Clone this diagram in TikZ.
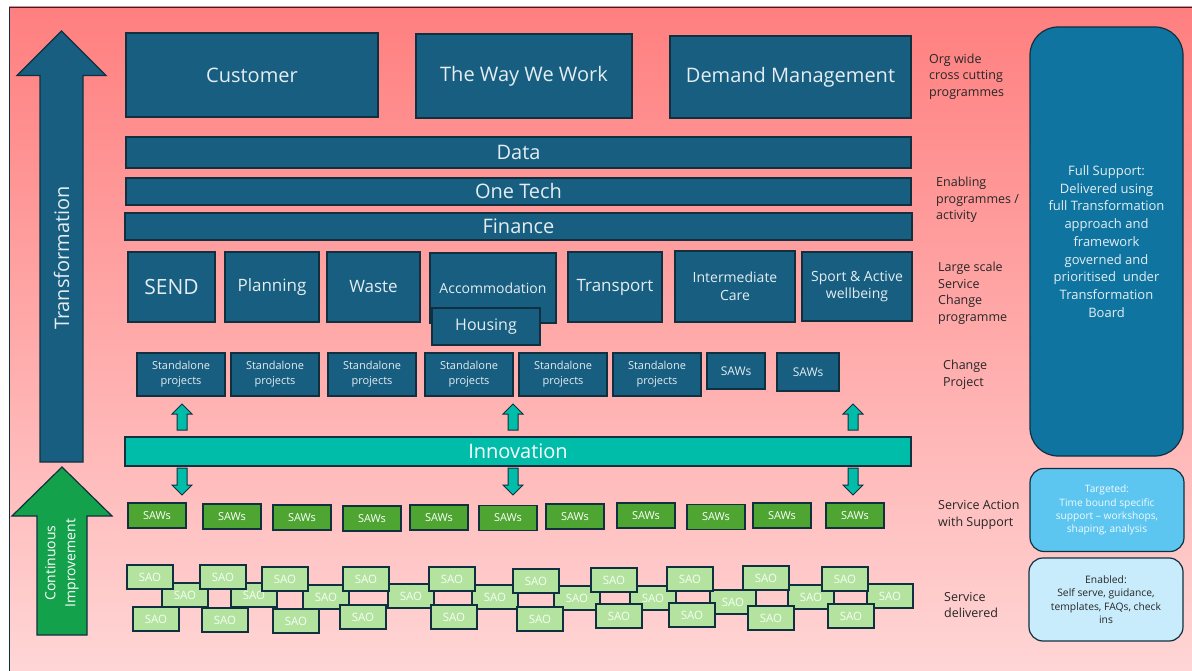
\documentclass[tikz,border=0pt]{standalone}
\usepackage{fontspec}
\setmainfont{Open Sans}
\usepackage{tikz}

\definecolor{bgtop}{HTML}{FF7F7F}
\definecolor{bgbot}{HTML}{FFD6D6}
\definecolor{progblue}{HTML}{175E80}
\definecolor{progline}{HTML}{10303F}
\definecolor{progtext}{HTML}{E4EDF2}
\definecolor{fullblue}{HTML}{0F75A0}
\definecolor{tgtblue}{HTML}{5CC6F0}
\definecolor{enbblue}{HTML}{C8ECFB}
\definecolor{innoteal}{HTML}{00BDA9}
\definecolor{sawgreen}{HTML}{4EA532}
\definecolor{saogreen}{HTML}{B4E3A0}
\definecolor{cigreen}{HTML}{14A14B}
\definecolor{labtext}{HTML}{262626}

\newcommand{\lw}{1.2pt}
\newcommand{\FL}{\fontsize{20}{24}\selectfont}
\newcommand{\FM}{\fontsize{17}{21}\selectfont}
\newcommand{\FS}{\fontsize{14}{17.5}\selectfont}
\newcommand{\FT}{\fontsize{11}{15}\selectfont}
\newcommand{\BlkArr}[7]{\filldraw[#7] (#1,#2) -- (#1+#6,#4) -- (#1+#5,#4) -- (#1+#5,#3) -- (#1-#5,#3) -- (#1-#5,#4) -- (#1-#6,#4) -- cycle;}

\tikzset{
    prog/.style={draw=progline,fill=progblue,text=progtext,line width=\lw,inner sep=1pt,align=center},
    sawbox/.style={draw=progline,fill=sawgreen,text=white,line width=1.5pt,minimum width=58pt,minimum height=25pt,inner sep=0pt,font=\fontsize{11}{13}\selectfont},
    saobox/.style={draw=progline,fill=saogreen,text=white!96!green,line width=1.6pt,minimum width=46pt,minimum height=24pt,inner sep=0pt,font=\fontsize{11.5}{13}\selectfont},
    lvl/.style={text=labtext,align=left,anchor=west,inner sep=0pt,font=\fontsize{12.5}{16.5}\selectfont},
    panel/.style={draw=progline,line width=\lw,align=center,inner sep=0pt},
    tealarr/.style={fill=innoteal,draw=progline,line width=1pt}
}

\begin{document}
\begin{tikzpicture}[x=1pt,y=-1pt]
    \useasboundingbox (0,0) rectangle (1192,671);
    \shade[top color=bgtop,bottom color=bgbot] (9,7) rectangle (1196,675);
    \draw[progline,line width=0.8pt] (9,675) -- (9,7) -- (1196,7);

    % big arrows on the left
    \BlkArr{61.5}{31}{462}{75.5}{21.5}{44.5}{fill=progblue,draw=progline,line width=\lw}
    \node[rotate=90,text=progtext,font=\FL] (trlab) at (61.5,258) {Transformation};
    \BlkArr{62}{467}{635}{516}{25}{50}{fill=cigreen,draw=progline,line width=\lw}
    \node[rotate=90,align=center,text=white,font=\fontsize{14}{20}\selectfont] (cilab) at (62,563) {Continuous\\Improvement};

    % cross cutting and enabling programmes
    \node[prog,minimum width=252pt,minimum height=84pt,font=\FL] (cust) at (252,75) {Customer};
    \node[prog,minimum width=216pt,minimum height=84pt,font=\FL] (wway) at (524,76) {The Way We Work};
    \node[prog,minimum width=241pt,minimum height=82pt,font=\FL] (demand) at (790.5,77) {Demand Management};
    \node[prog,minimum width=785pt,minimum height=31pt,font=\FL] (data) at (518.5,152.5) {Data};
    \node[prog,minimum width=785pt,minimum height=27pt,font=\FL] (otech) at (518.5,191.5) {One Tech};
    \node[prog,minimum width=787pt,minimum height=27pt,font=\FL] (fin) at (518.5,226.5) {Finance};

    % large scale programmes
    \node[prog,minimum width=87pt,minimum height=70pt,font=\fontsize{21}{24}\selectfont] (send) at (171.5,287) {SEND};
    \node[prog,minimum width=94pt,minimum height=70pt,font=\FM] (plan) at (272,287) {Planning};
    \node[prog,minimum width=93pt,minimum height=70pt,font=\FM] (waste) at (373.5,287) {Waste};
    \node[prog,minimum width=126pt,minimum height=70pt,font=\FS] (accom) at (493,288) {Accommodation};
    \node[prog,minimum width=108pt,minimum height=37pt,font=\fontsize{16}{19}\selectfont] (housing) at (486,326.5) {Housing};
    \node[prog,minimum width=94pt,minimum height=70pt,font=\FM] (transp) at (615,287) {Transport};
    \node[prog,minimum width=120pt,minimum height=71pt,font=\FS] (icare) at (735,286.5) {Intermediate\\Care};
    \node[prog,minimum width=110pt,minimum height=69pt,font=\FS] (sport) at (857,286.5) {Sport \& Active\\wellbeing};

    % change projects
    \foreach \x [count=\i] in {181,275,372,469,563,657}
        \node[prog,minimum width=88pt,minimum height=43pt,font=\FT] (stand\i) at (\x,374.5) {Standalone\\projects};
    \node[prog,minimum width=58pt,minimum height=36pt,font=\fontsize{12}{14}\selectfont] (cpsaw1) at (736,371) {SAWs};
    \node[prog,minimum width=62pt,minimum height=38pt,font=\fontsize{12}{14}\selectfont] (cpsaw2) at (808,372) {SAWs};

    % innovation
    \node[prog,fill=innoteal,text=white,minimum width=786pt,minimum height=29pt,font=\FL] (inno) at (518,451.5) {Innovation};
    \foreach \ax in {182,513,853}{
        \BlkArr{\ax}{404}{430}{414}{5}{10}{tealarr}
        \BlkArr{\ax}{495}{468}{485}{5}{10}{tealarr}
    }

    % service action with support
    \foreach \x/\y [count=\i] in {157/515.5,232/516.5,302/517.5,372/518.5,439/517.5,508/518,575/516.5,646/515.5,716/517,782/515.5,855/515.5}
        \node[sawbox] (saw\i) at (\x,\y) {SAWs};

    % service delivered
    \begin{scope}
        \foreach \x/\y [count=\i] in {185/595,254/595,326/597,411/596,495/597,577/598,653/598,733/602,811/597,890/596}
            \node[saobox] (saoM\i) at (\x,\y) {SAO};
        \foreach \x/\y [count=\i] in {150/577,223/577,285/579,366/579,452/579,536/581,614/580,690/579,766/578,845/579}
            \node[saobox] (saoT\i) at (\x,\y) {SAO};
        \foreach \x/\y [count=\i] in {156/619,225/620,296/621,363/617,454/617,540/619,619/616,692/615,771/618,851/616}
            \node[saobox] (saoB\i) at (\x,\y) {SAO};
    \end{scope}

    % level labels
    \node[lvl] (lorg) at (929,76.5) {Org wide\\cross cutting\\programmes};
    \node[lvl] (lenab) at (936,200) {Enabling\\programmes /\\activity};
    \node[lvl] (llarge) at (938,293.5) {Large scale\\Service\\Change\\programme};
    \node[lvl] (lchange) at (943,375) {Change\\Project};
    \node[lvl] (lsaws) at (938,515) {Service Action\\with Support};
    \node[lvl] (lsao) at (944,605) {Service\\delivered};

    % support panels
    \node[panel,fill=fullblue,rounded corners=28pt,minimum width=153pt,minimum height=429pt,text=progtext,font=\fontsize{13}{17.7}\selectfont] (full) at (1106.5,241.5)
        {Full Support:\\Delivered using\\full Transformation\\approach and\\framework\\governed and\\prioritised~ under\\Transformation\\Board};
    \node[panel,fill=tgtblue,rounded corners=14pt,minimum width=154pt,minimum height=83pt,text=white!92!tgtblue,font=\fontsize{10.2}{13.3}\selectfont] (tgt) at (1107,510)
        {Targeted:\\Time bound specific\\support – workshops,\\shaping, analysis};
    \node[panel,fill=enbblue,rounded corners=14pt,minimum width=154pt,minimum height=83pt,text=labtext,font=\fontsize{10.3}{13.3}\selectfont] (enb) at (1106,599.5)
        {Enabled:\\Self serve, guidance,\\templates, FAQs, check\\ins};
\end{tikzpicture}
\end{document}
